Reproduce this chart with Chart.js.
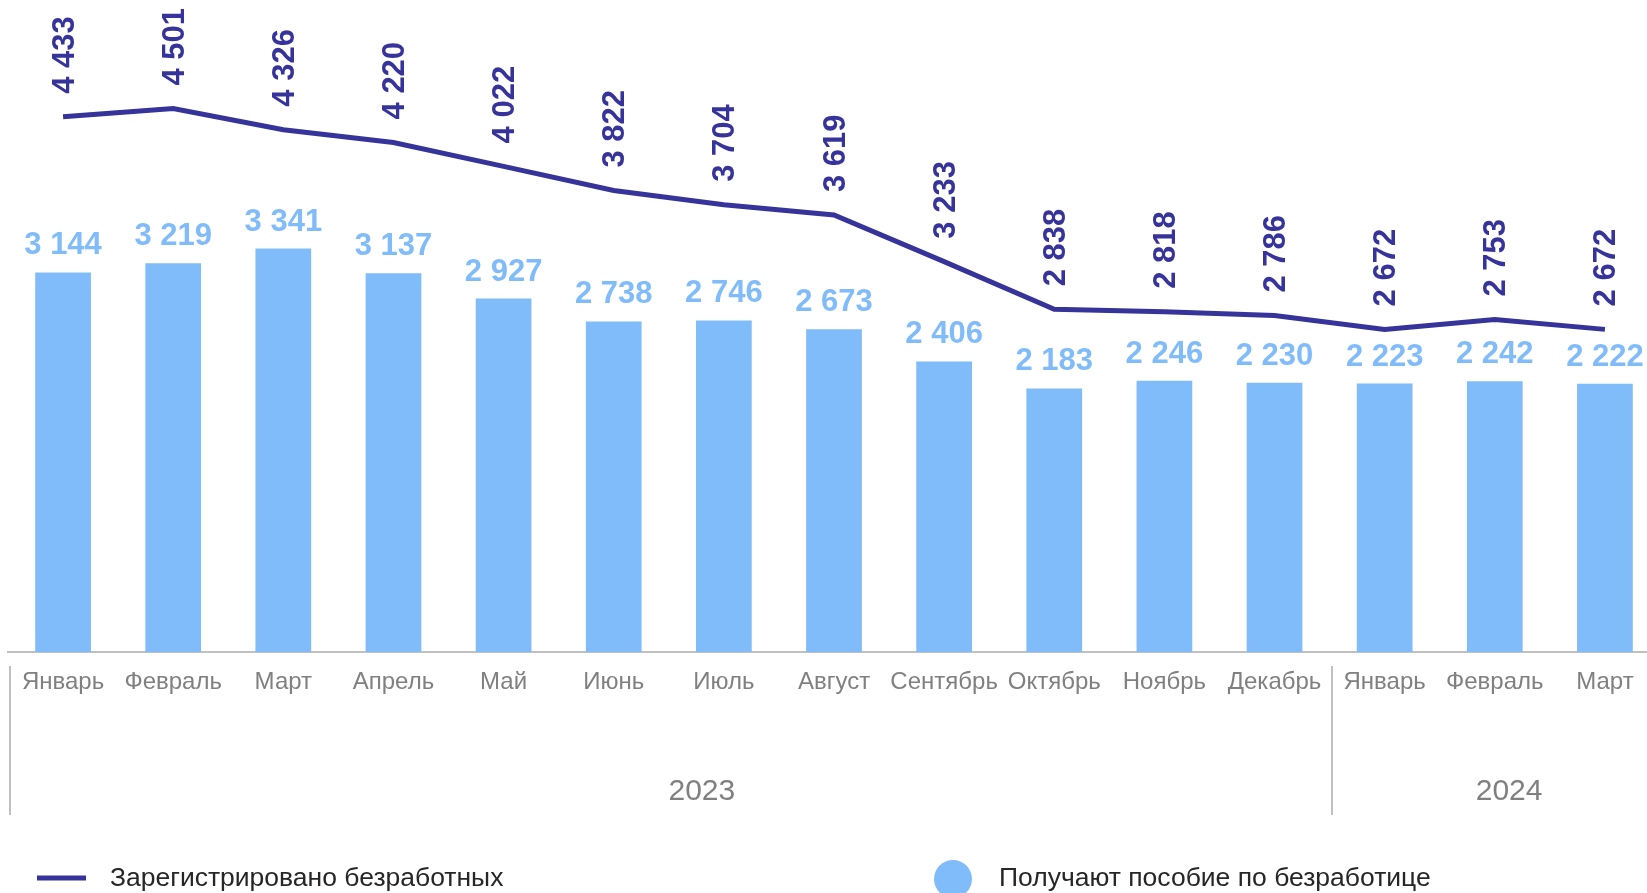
<!DOCTYPE html>
<html>
<head>
<meta charset="utf-8">
<script src="https://cdn.jsdelivr.net/npm/chart.js@4/dist/chart.umd.min.js"></script>
<style>
  html, body { margin:0; padding:0; background:#fff; overflow:hidden; }
  canvas { display:block; }
</style>
</head>
<body>
<canvas id="chart" width="1662" height="893"></canvas>
<script>
// months (2023: Jan-Dec, 2024: Jan-Mar)
const months = ['Январь','Февраль','Март','Апрель','Май','Июнь','Июль','Август','Сентябрь','Октябрь','Ноябрь','Декабрь','Январь','Февраль','Март'];
// registered unemployed (line)
const registered = [4433,4501,4326,4220,4022,3822,3704,3619,3233,2838,2818,2786,2672,2753,2672];
// receive unemployment benefit (bars)
const benefit = [3144,3219,3341,3137,2927,2738,2746,2673,2406,2183,2246,2230,2223,2242,2222];
// year groups: label, first index, label position (category units)
const years = ['2023','2024'];
const yearFrom = [0,12];
const yearPos = [5.8,13.13];

const lineColor = '#36349a';
const barColor = '#80bbfa';
const font = '"Liberation Sans", Arial, sans-serif';

function fmt(v){
  return String(v).replace(/\B(?=(\d{3})+(?!\d))/g,' ');
}

const extras = {
  id:'extras',
  afterDatasetsDraw(chart){
    const ctx = chart.ctx;
    const bars = chart.getDatasetMeta(1).data;
    const pts = chart.getDatasetMeta(0).data;
    ctx.save();
    ctx.font = 'bold 31px ' + font;
    // bar values
    ctx.fillStyle = barColor;
    ctx.textAlign = 'center';
    ctx.textBaseline = 'alphabetic';
    bars.forEach((b,i)=>{
      ctx.fillText(fmt(benefit[i]), b.x, b.y - 18);
    });
    // line values, rotated
    ctx.fillStyle = lineColor;
    ctx.textAlign = 'left';
    ctx.textBaseline = 'middle';
    pts.forEach((p,i)=>{
      ctx.save();
      ctx.translate(p.x + 2, p.y - 23);
      ctx.rotate(-Math.PI/2);
      ctx.fillText(fmt(registered[i]), 0, 0);
      ctx.restore();
    });
    ctx.restore();
  },
  afterDraw(chart){
    const ctx = chart.ctx;
    const x = chart.scales.x;
    const w = x.getPixelForValue(1) - x.getPixelForValue(0);
    const bottom = chart.chartArea.bottom;
    ctx.save();
    // group separators
    ctx.strokeStyle = '#c0c0c0';
    ctx.lineWidth = 2;
    yearFrom.forEach(f=>{
      const sx = Math.round(x.getPixelForValue(f) - w/2) + 2;
      ctx.beginPath();
      ctx.moveTo(sx, bottom + 14);
      ctx.lineTo(sx, bottom + 163);
      ctx.stroke();
    });
    // year labels
    ctx.fillStyle = '#808080';
    ctx.font = '30px ' + font;
    ctx.textAlign = 'center';
    ctx.textBaseline = 'middle';
    years.forEach((y,i)=>{
      const px = x.getPixelForValue(0) + yearPos[i]*w;
      ctx.fillText(y, px, bottom + 140);
    });
    // legend
    ctx.font = '26.5px ' + font;
    ctx.fillStyle = '#262626';
    ctx.textAlign = 'left';
    ctx.textBaseline = 'middle';
    ctx.strokeStyle = lineColor;
    ctx.lineWidth = 5;
    ctx.beginPath();
    ctx.moveTo(37, 878);
    ctx.lineTo(86, 878);
    ctx.stroke();
    ctx.fillText('Зарегистрировано безработных', 110, 879);
    ctx.fillStyle = barColor;
    ctx.beginPath();
    ctx.arc(953, 879, 19, 0, Math.PI*2);
    ctx.fill();
    ctx.fillStyle = '#262626';
    ctx.fillText('Получают пособие по безработице', 999, 879);
    ctx.restore();
  }
};

new Chart(document.getElementById('chart'), {
  data:{
    labels: months,
    datasets:[
      {
        type:'line',
        label:'Зарегистрировано безработных',
        data: registered,
        borderColor: lineColor,
        borderWidth: 5,
        pointRadius: 0,
        tension: 0,
        fill: false,
        order: 0
      },
      {
        type:'bar',
        label:'Получают пособие по безработице',
        data: benefit,
        backgroundColor: barColor,
        borderWidth: 0,
        categoryPercentage: 1,
        barPercentage: 0.506,
        order: 1
      }
    ]
  },
  options:{
    responsive:false,
    animation:false,
    devicePixelRatio:1,
    layout:{ padding:{ left:8, right:2, top:0, bottom:0 } },
    plugins:{
      legend:{ display:false },
      tooltip:{ enabled:false }
    },
    scales:{
      x:{
        offset:true,
        grid:{ display:false, drawTicks:false },
        border:{ display:true, color:'#c0c0c0', width:2 },
        ticks:{
          color:'#808080',
          font:{ family:font, size:24 },
          padding:16,
          maxRotation:0,
          autoSkip:false
        },
        afterFit(scale){ scale.height = 241; }
      },
      y:{
        display:false,
        min:0,
        max:5400
      }
    }
  },
  plugins:[extras]
});
</script>
</body>
</html>
